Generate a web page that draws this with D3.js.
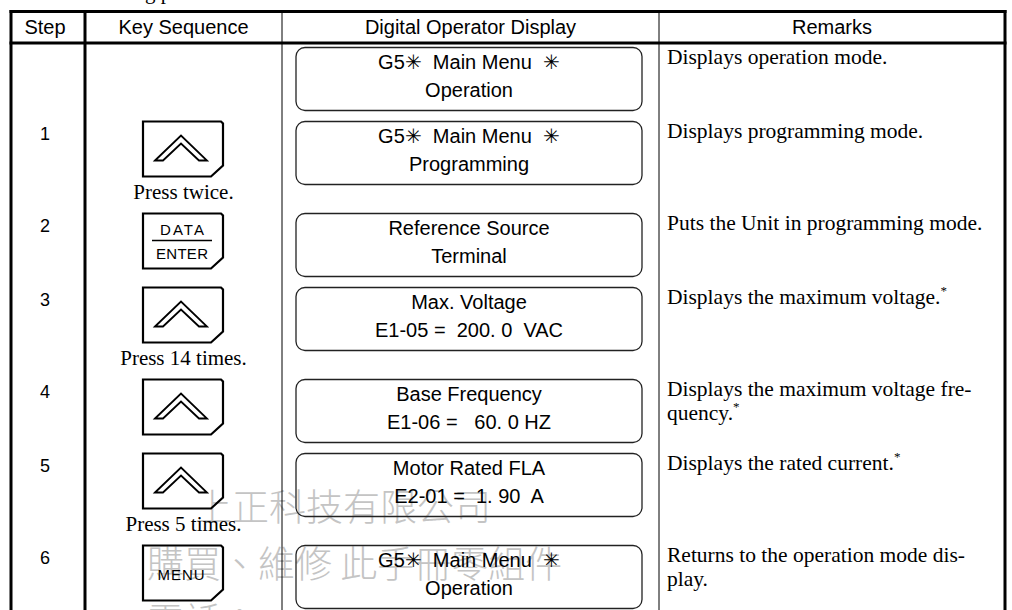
<!DOCTYPE html>
<html><head><meta charset="utf-8">
<script src="https://cdn.jsdelivr.net/npm/d3@7"></script>
<style>body{margin:0;background:#fff;} svg{display:block} text{white-space:pre}</style>
</head><body>
<svg id="c" width="1012" height="610"></svg>
<script>
// ---- data ----
const headers = ["Step", "Key Sequence", "Digital Operator Display", "Remarks"];
const steps = ["", "1", "2", "3", "4", "5", "6"];
const keys = ["", "up", "enter", "up", "up", "up", "menu"];
const keyCaptions = ["", "Press twice.", "", "Press 14 times.", "", "Press 5 times.", ""];
const displayLine1 = ["G5\u2733  Main Menu  \u2733", "G5\u2733  Main Menu  \u2733", "Reference Source", "Max. Voltage", "Base Frequency", "Motor Rated FLA", "G5\u2733  Main Menu  \u2733"];
const displayLine2 = ["Operation", "Programming", "Terminal", "E1-05 =  200. 0  VAC", "E1-06 =   60. 0 HZ", "E2-01 =  1. 90  A", "Operation"];
const remarkLines = [
  ["Displays operation mode."],
  ["Displays programming mode."],
  ["Puts the Unit in programming mode."],
  ["Displays the maximum voltage."],
  ["Displays the maximum voltage fre-", "quency."],
  ["Displays the rated current."],
  ["Returns to the operation mode dis-", "play."]
];
const remarkNote = [false, false, false, true, true, true, false];
const watermark = ["上正科技有限公司", "購買、維修 此手冊零組件", "電話："];
const topText = "The following procedure";

// ---- layout ----
const W = 1012, H = 610;
const svg = d3.select("#c");
const colEdges = [11, 85, 282, 659, 1005];
const colCenters = d3.pairs(colEdges).map(([a, b]) => (a + b) / 2);
const sans = "'Liberation Sans', Arial, sans-serif";
const serif = "'Liberation Serif', 'Times New Roman', serif";

// row tops
const rowIdx = d3.range(steps.length);
const rowHeights = rowIdx.map(i => keyCaptions[i] ? 92 : 74);
const rowTops = [48];
for (let i = 1; i < steps.length; i++) rowTops.push(rowTops[i - 1] + rowHeights[i - 1]);
const yRow = d3.scaleOrdinal().domain(rowIdx).range(rowTops);

// watermark (behind)
const wm = svg.append("g").attr("fill", "#c4c4c4")
  .attr("font-family", "'Noto Sans CJK TC', 'Noto Sans CJK SC', sans-serif")
  .attr("font-size", 37).attr("font-weight", 300);
const wmX = [195, 147, 147];
const wmY = [505, 562, 619];
wm.selectAll("text").data(watermark).join("text")
  .attr("x", (d, i) => wmX[i]).attr("y", (d, i) => wmY[i])
  .attr("dominant-baseline", "central")
  .text(d => d);

// cropped text above table
const tt = svg.append("text").attr("font-family", serif).attr("font-size", 21)
  .attr("y", -1).attr("x", 0).text(topText);
const wBefore = tt.node().getSubStringLength(0, topText.indexOf("g"));
tt.attr("x", 145 - wBefore);

// table lines
const lines = svg.append("g").attr("stroke", "#000");
lines.append("line").attr("x1", 9.5).attr("x2", 1006.5).attr("y1", 11.5).attr("y2", 11.5).attr("stroke-width", 3);
lines.append("line").attr("x1", 9.5).attr("x2", 1006.5).attr("y1", 43).attr("y2", 43).attr("stroke-width", 3);
const vW = [3, 3, 1, 1, 3];
lines.selectAll("line.v").data(colEdges).join("line").attr("class", "v")
  .attr("x1", d => d).attr("x2", d => d).attr("y1", 10).attr("y2", H)
  .attr("stroke-width", (d, i) => vW[i]);

// header text
svg.append("g").attr("font-family", sans).attr("font-size", 20).attr("text-anchor", "middle")
  .selectAll("text").data(headers).join("text")
  .attr("x", (d, i) => colCenters[i] - (i === 0 ? 3 : 0)).attr("y", 34).text(d => d);

// step numbers
svg.append("g").attr("font-family", sans).attr("font-size", 18).attr("text-anchor", "middle")
  .selectAll("text").data(steps).join("text")
  .attr("x", colCenters[0] - 3).attr("y", (d, i) => yRow(i) + 18).text(d => d);

// keys
const keyW = 80, keyH = 55;
const kx0 = colCenters[1] - keyW / 2 - 0.5;
const keyG = svg.append("g");
rowIdx.forEach(i => {
  if (!keys[i]) return;
  const top = yRow(i) - 0.5;
  const x0 = kx0, x1 = kx0 + keyW, y0 = top, y1 = top + keyH;
  const g = keyG.append("g");
  g.append("path")
    .attr("d", `M${x0},${y0}H${x1 - 2}L${x1},${y0 + 2}V${y1 - 11}L${x1 - 12},${y1}H${x0}Z`)
    .attr("fill", "none").attr("stroke", "#000").attr("stroke-width", 2.2);
  const cx = (x0 + x1) / 2 - 2;
  if (keys[i] === "up") {
    const ay = y0 + 14, ey = y0 + 39;
    g.append("path")
      .attr("d", `M${cx - 26},${ey}L${cx},${ay}L${cx + 26},${ey}H${cx + 18}L${cx},${ay + 8}L${cx - 18},${ey}Z`)
      .attr("fill", "none").attr("stroke", "#000").attr("stroke-width", 1.8).attr("stroke-linejoin", "miter");
  } else if (keys[i] === "enter") {
    g.append("text").attr("x", cx + 1).attr("y", y0 + 21).attr("text-anchor", "middle")
      .attr("font-family", sans).attr("font-size", 15).attr("textLength", 44).text("DATA");
    g.append("line").attr("x1", cx - 29).attr("x2", cx + 31).attr("y1", y0 + 27).attr("y2", y0 + 27)
      .attr("stroke", "#000").attr("stroke-width", 1.5);
    g.append("text").attr("x", cx + 1).attr("y", y0 + 45).attr("text-anchor", "middle")
      .attr("font-family", sans).attr("font-size", 15).attr("textLength", 52).text("ENTER");
  } else if (keys[i] === "menu") {
    g.append("text").attr("x", cx).attr("y", y0 + 34).attr("text-anchor", "middle")
      .attr("font-family", sans).attr("font-size", 15).attr("textLength", 47).text("MENU");
  }
  if (keyCaptions[i]) {
    g.append("text").attr("x", colCenters[1]).attr("y", y0 + 77).attr("text-anchor", "middle")
      .attr("font-family", serif).attr("font-size", 21).text(keyCaptions[i]);
  }
});

// display boxes
const boxW = 346, boxH = 63;
const bx0 = colCenters[2] - boxW / 2 - 1.5;
const dispG = svg.append("g");
rowIdx.forEach(i => {
  const top = yRow(i) - 0.5;
  dispG.append("rect").attr("x", bx0).attr("y", top).attr("width", boxW).attr("height", boxH)
    .attr("rx", 9).attr("ry", 9).attr("fill", "none").attr("stroke", "#222").attr("stroke-width", 1.3);
  dispG.append("text").attr("x", bx0 + boxW / 2).attr("y", top + 21).attr("text-anchor", "middle")
    .attr("font-family", sans).attr("font-size", 20).text(displayLine1[i]);
  dispG.append("text").attr("x", bx0 + boxW / 2).attr("y", top + 49).attr("text-anchor", "middle")
    .attr("font-family", sans).attr("font-size", 20).text(displayLine2[i]);
});

// remarks
const remG = svg.append("g").attr("font-family", serif).attr("font-size", 21.5);
rowIdx.forEach(i => {
  const top = yRow(i);
  const n = remarkLines[i].length;
  remarkLines[i].forEach((ln, j) => {
    const t = remG.append("text").attr("x", colEdges[3] + 8).attr("y", top + 16 + j * 24).text(ln);
    if (remarkNote[i] && j === n - 1) {
      t.append("tspan").attr("font-size", 13).attr("dy", -9).text("*");
    }
  });
});
</script>
</body></html>
